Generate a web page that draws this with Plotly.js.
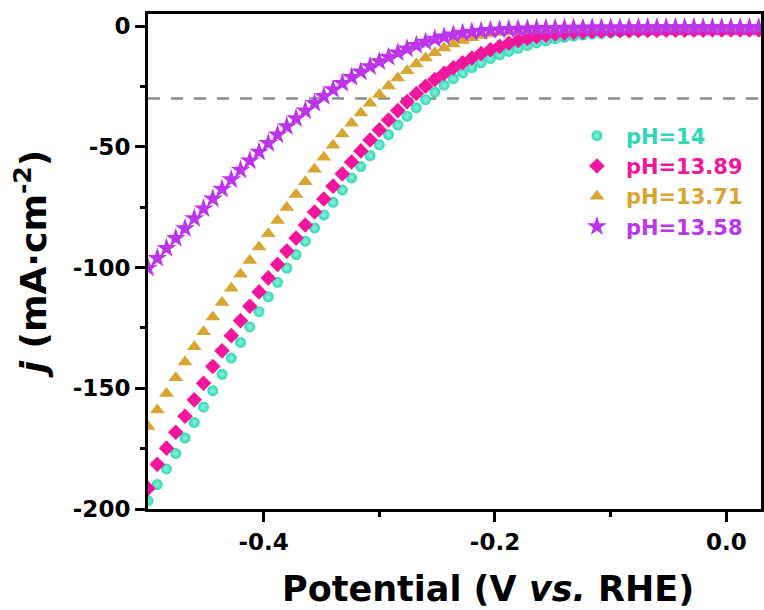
<!DOCTYPE html>
<html>
<head>
<meta charset="utf-8">
<script src="https://cdn.plot.ly/plotly-3.0.1.min.js"></script>
<style>html,body{margin:0;padding:0;background:#fff;}#chart{width:764px;height:610px;}</style>
</head>
<body>
<div id="chart"></div>
<script>
// Potential (V vs. RHE)
const potential = [-0.500,-0.492,-0.484,-0.476,-0.468,-0.460,-0.452,-0.444,-0.436,-0.428,
  -0.420,-0.412,-0.404,-0.396,-0.388,-0.380,-0.372,-0.364,-0.356,-0.348,
  -0.340,-0.332,-0.324,-0.316,-0.308,-0.300,-0.292,-0.284,-0.276,-0.268,
  -0.260,-0.252,-0.244,-0.236,-0.228,-0.220,-0.212,-0.204,-0.196,-0.188,
  -0.180,-0.172,-0.164,-0.156,-0.148,-0.140,-0.132,-0.124,-0.116,-0.108,
  -0.100,-0.092,-0.084,-0.076,-0.068,-0.060,-0.052,-0.044,-0.036,-0.028,
  -0.020,-0.012,-0.004,0.004,0.012,0.020,0.028];

const j_pH14 = [-196.6,-189.9,-183.4,-177.0,-170.6,-164.2,-157.8,-151.0,-144.2,-137.5,
  -131.0,-124.6,-118.3,-112.1,-106.1,-100.2,-94.6,-89.1,-83.6,-78.2,
  -73.0,-67.9,-62.9,-58.2,-53.6,-49.2,-45.0,-41.0,-37.3,-33.8,
  -30.5,-27.4,-24.5,-21.8,-19.4,-17.2,-15.2,-13.4,-11.9,-10.5,
  -9.2,-8.0,-7.0,-6.1,-5.3,-4.7,-4.2,-3.7,-3.3,-3.0,
  -2.7,-2.5,-2.3,-2.2,-2.1,-2.0,-1.9,-1.9,-1.8,-1.8,
  -1.8,-1.7,-1.7,-1.7,-1.7,-1.7,-1.7];

const j_pH1389 = [-191.5,-181.5,-174.8,-168.2,-161.6,-154.8,-147.9,-141.0,-134.5,-128.2,
  -122.0,-116.0,-110.1,-104.3,-98.7,-93.2,-87.8,-82.4,-77.0,-71.6,
  -66.3,-61.2,-56.3,-51.7,-47.2,-43.0,-38.9,-35.0,-31.3,-27.9,
  -24.9,-22.1,-19.6,-17.3,-15.2,-13.2,-11.4,-9.8,-8.4,-7.1,
  -6.0,-5.1,-4.4,-3.8,-3.3,-2.9,-2.6,-2.4,-2.2,-2.1,
  -2.0,-1.9,-1.9,-1.8,-1.8,-1.8,-1.7,-1.7,-1.7,-1.7,
  -1.7,-1.6,-1.6,-1.6,-1.6,-1.6,-1.6];

const j_pH1371 = [-165.8,-159.0,-152.2,-145.6,-139.1,-132.8,-126.6,-120.5,-114.5,-108.6,
  -102.8,-97.1,-91.5,-86.0,-80.5,-75.1,-69.8,-64.5,-59.3,-54.3,
  -49.4,-44.7,-40.2,-36.0,-32.0,-28.3,-24.8,-21.5,-18.5,-15.7,
  -13.2,-11.0,-9.1,-7.4,-6.0,-4.8,-3.9,-3.2,-2.7,-2.3,
  -2.0,-1.8,-1.6,-1.5,-1.4,-1.3,-1.3,-1.2,-1.2,-1.2,
  -1.2,-1.1,-1.1,-1.1,-1.1,-1.1,-1.1,-1.1,-1.1,-1.1,
  -1.1,-1.1,-1.1,-1.1,-1.1,-1.1,-1.1];

const j_pH1358 = [-100.2,-96.1,-92.0,-87.9,-83.8,-79.7,-75.6,-71.5,-67.5,-63.5,
  -59.6,-55.8,-52.1,-48.5,-45.0,-41.6,-38.3,-35.1,-32.0,-29.1,
  -26.3,-23.7,-21.2,-18.9,-16.7,-14.7,-12.8,-11.0,-9.4,-7.9,
  -6.6,-5.4,-4.4,-3.6,-2.9,-2.4,-2.0,-1.7,-1.5,-1.3,
  -1.2,-1.1,-1.0,-0.9,-0.9,-0.8,-0.8,-0.8,-0.7,-0.7,
  -0.7,-0.7,-0.7,-0.6,-0.6,-0.6,-0.6,-0.6,-0.6,-0.6,
  -0.6,-0.6,-0.6,-0.6,-0.6,-0.6,-0.6];

const seriesNames = ['pH=14', 'pH=13.89', 'pH=13.71', 'pH=13.58'];
const xTickVals = [-0.4, -0.2, 0.0];
const xTickText = ['-0.4', '-0.2', '0.0'];
const yTickVals = [0, -50, -100, -150, -200];
const yTickText = ['0', '-50', '-100', '-150', '-200'];
const thresholdJ = [-30];

const colors = ['#2ed9b6', '#f2169c', '#d8a530', '#bd35ea'];
const symbols = ['circle', 'diamond', 'triangle-up', 'star'];
const sizes = [11, 12, 13, 15];
const seriesY = [j_pH14, j_pH1389, j_pH1371, j_pH1358];

const FONT = '"DejaVu Sans", Arial, sans-serif';

const traces = seriesY.map((y, k) => {
  const marker = {symbol: symbols[k], color: colors[k], size: sizes[k], line: {width: 0}};
  if (k === 0) marker.gradient = {type: 'radial', color: '#8ff0d9'};
  return {
    x: potential, y: y, type: 'scatter', mode: 'markers',
    name: '<span style="color:' + colors[k] + '">' + seriesNames[k] + '</span>',
    marker: marker
  };
});

const axisCommon = {
  showline: true, linecolor: '#000', linewidth: 3, mirror: true,
  ticks: 'outside', ticklen: 10, tickwidth: 3, tickcolor: '#000',
  showgrid: false, zeroline: false,
  tickfont: {family: FONT, size: 23, color: '#000', weight: 'bold'}
};

const layout = {
  width: 764, height: 610,
  margin: {l: 148, r: 3, t: 14, b: 101},
  paper_bgcolor: '#fff', plot_bgcolor: '#fff',
  font: {family: FONT, color: '#000'},
  showlegend: true,
  legend: {
    x: 0.685, y: 0.795, xanchor: 'left', yanchor: 'top',
    bgcolor: 'rgba(0,0,0,0)', borderwidth: 0, itemwidth: 48, tracegroupgap: 0,
    font: {family: FONT, size: 21, weight: 'bold'}
  },
  xaxis: Object.assign({}, axisCommon, {
    range: [-0.5, 0.03],
    tickvals: xTickVals, ticktext: xTickText,
    minor: {tickvals: [-0.3, -0.1], ticks: 'outside', ticklen: 5, tickwidth: 3, tickcolor: '#000'}
  }),
  yaxis: Object.assign({}, axisCommon, {
    range: [-200, 5],
    tickvals: yTickVals, ticktext: yTickText,
    minor: {tickvals: [-25, -75, -125, -175], ticks: 'outside', ticklen: 5, tickwidth: 3, tickcolor: '#000'},
    title: {text: '<i>j</i> (mA·cm<sup>-2</sup>)', standoff: 16,
            font: {family: FONT, size: 36, color: '#000', weight: 'bold'}}
  }),
  annotations: [{
    text: 'Potential (V <i>vs.</i> RHE)', xref: 'paper', yref: 'paper',
    x: 0.555, y: -0.118, xanchor: 'center', yanchor: 'top', showarrow: false,
    font: {family: FONT, size: 35, color: '#000', weight: 'bold'}
  }],
  shapes: thresholdJ.map(v => ({
    type: 'line', xref: 'paper', x0: 0, x1: 1, yref: 'y', y0: v, y1: v,
    layer: 'below', line: {color: '#8c8c8c', width: 2.5, dash: '12px,11px'}
  }))
};

Plotly.newPlot('chart', traces, layout, {staticPlot: true, displayModeBar: false});
</script>
</body>
</html>
